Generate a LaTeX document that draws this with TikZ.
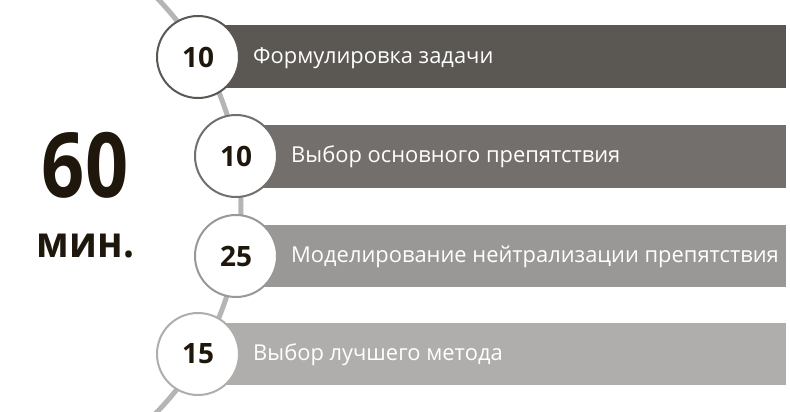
\documentclass[tikz,border=0pt]{standalone}
\usepackage{fontspec}
\setmainfont{Open Sans}
\usetikzlibrary{
  positioning,  % Function "of" (e.g. [right=of x])
}
\definecolor{barA}{HTML}{5B5753}
\definecolor{barB}{HTML}{736F6C}
\definecolor{barC}{HTML}{9A9896}
\definecolor{barD}{HTML}{B0AEAD}
\definecolor{arcgray}{HTML}{B5B5B5}
\definecolor{numdark}{HTML}{1F170C}
\tikzset{
  timeline/.style={
    draw=arcgray,
    line width=5pt
  },
  stage/.style={
    circle,
    draw=#1,
    line width=2pt,
    fill=white,
    minimum size=82pt,
    inner sep=0pt,
    text=numdark,
    font=\bfseries\fontsize{28}{30}\selectfont
  },
  bar text/.style={
    text=white,
    inner sep=0pt,
    yshift=-1pt,
    font=\fontsize{21.9}{26}\selectfont
  },
  total/.style={
    anchor=base,
    inner sep=0pt,
    text=numdark,
    xscale=0.84,
    font=\bfseries\fontsize{90}{100}\selectfont
  },
  unit/.style={
    anchor=base,
    inner sep=0pt,
    text=numdark,
    xscale=0.9,
    font=\bfseries\fontsize{43}{50}\selectfont
  }
}
\begin{document}
\begin{tikzpicture}[x=1pt,y=-1pt]
\useasboundingbox (0,0) rectangle (790,412);
\begin{scope}
  \clip (0,0) rectangle (790,412);
  \coordinate (o) at (-56,205);
  \draw[timeline] (o) circle[radius=297];
\end{scope}
% bars
\fill[barA] (198,25) rectangle (786,88);
\fill[barB] (236,125) rectangle (786,188);
\fill[barC] (236,225) rectangle (786,287);
\fill[barD] (198,323) rectangle (786,385);
% stages
\node[stage=barA] (s1) at (198,57)  {10};
\node[stage=barB] (s2) at (236,156) {10};
\node[stage=barC] (s3) at (236,256) {25};
\node[stage=barD] (s4) at (198,354) {15};
\node[bar text] (t1) [right=13pt of s1] {Формулировка задачи};
\node[bar text] (t2) [right=13pt of s2] {Выбор основного препятствия};
\node[bar text] (t3) [right=13pt of s3] {Моделирование нейтрализации препятствия};
\node[bar text] (t4) [right=13pt of s4] {Выбор лучшего метода};
% total time
\node[total,transform shape] (sum)  at (85,197)   {60};
\node[unit,transform shape]  (mins) at (85.5,257) {мин.};
\end{tikzpicture}
\end{document}
